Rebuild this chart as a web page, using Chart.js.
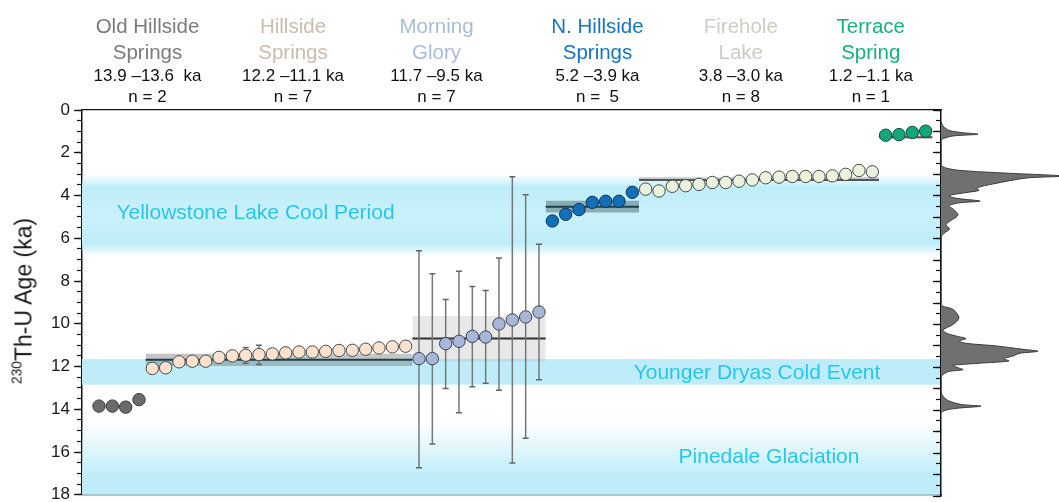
<!DOCTYPE html>
<html>
<head>
<meta charset="utf-8">
<script src="https://cdn.jsdelivr.net/npm/chart.js@4.4.1/dist/chart.umd.min.js"></script>
<style>
  body { margin: 0; background: #fff; overflow: hidden; }
  #wrap { position: relative; width: 1059px; height: 502px; font-family: "Liberation Sans", Arial, Helvetica, sans-serif; }
  canvas { position: absolute; top: 0; }
  #main { left: 0; }
  #dens { left: 900px; }
  .hdr { position: absolute; transform: translateX(-50%); text-align: center; white-space: pre; }
  .name { top: 12.6px; font-size: 20.5px; line-height: 26px; }
  .info { top: 64.5px; font-size: 17px; line-height: 21.3px; color: #111; }
  .bandLabel { position: absolute; transform: translateX(-50%); font-size: 21px; line-height: 21px; color: #27c6ee; white-space: nowrap; }
  #ytitle { position: absolute; left: 24px; top: 301px; transform: translate(-50%, -50%) rotate(-90deg); font-size: 23px; color: #1a1a1a; white-space: nowrap; }
  #ytitle sup { font-size: 60%; vertical-align: 0.75em; line-height: 0; }
</style>
</head>
<body>
<div id="wrap">
  <canvas id="main" width="1059" height="502"></canvas>
  <canvas id="dens" width="159" height="502"></canvas>
  <div id="ytitle"><sup>230</sup>Th-U Age (ka)</div>
</div>
<script>
// spring groups, left to right
const groupNames = ["Old Hillside\nSprings", "Hillside\nSprings", "Morning\nGlory", "N. Hillside\nSprings", "Firehole\nLake", "Terrace\nSpring"];
const groupRanges = ["13.9 \u201313.6  ka", "12.2 \u201311.1 ka", "11.7 \u20139.5 ka", "5.2 \u20133.9 ka", "3.8 \u20133.0 ka", "1.2 \u20131.1 ka"];
const groupCounts = ["n = 2", "n = 7", "n = 7", "n =  5", "n = 8", "n = 1"];

// 230Th-U ages (ka) per sample
const oldHillside = [13.85, 13.85, 13.9, 13.55];
const hillside = [12.09, 12.06, 11.78, 11.75, 11.75, 11.57, 11.5, 11.47, 11.44, 11.41,
                  11.36, 11.32, 11.32, 11.29, 11.25, 11.24, 11.19, 11.13, 11.08, 11.05];
const hillsideLow = [null, null, null, null, null, null, null, 11.11, 11.01, null,
                     null, null, null, null, null, null, null, null, null, null];
const hillsideHigh = [null, null, null, null, null, null, null, 11.85, 11.9, null,
                      null, null, null, null, null, null, null, null, null, null];
const morningGlory = [11.63, 11.63, 10.93, 10.82, 10.59, 10.62, 10.01, 9.82, 9.68, 9.45];
const morningGloryLow = [6.58, 7.66, 8.86, 7.54, 8.26, 8.44, 6.92, 3.12, 3.96, 6.28];
const morningGloryHigh = [16.73, 15.62, 13.03, 14.16, 12.95, 12.78, 13.11, 16.51, 15.36, 12.62];
const nHillside = [5.19, 4.88, 4.66, 4.32, 4.27, 4.27, 3.85];
const firehole = [3.7, 3.79, 3.57, 3.54, 3.48, 3.39, 3.39, 3.33, 3.27, 3.17,
                  3.14, 3.11, 3.11, 3.11, 3.08, 3.01, 2.83, 2.89];
const terrace = [1.18, 1.15, 1.05, 0.99];

const groupValues = [oldHillside, hillside, morningGlory, nHillside, firehole, terrace];
const groupLow = [null, hillsideLow, morningGloryLow, null, null, null];
const groupHigh = [null, hillsideHigh, morningGloryHigh, null, null, null];

// group mean age and its uncertainty band (ka)
const groupMean = [null, 11.68, 10.69, 4.52, 3.27, 1.27];
const groupMeanFrom = [null, 11.4, 9.64, 4.24, 3.15, 1.18];
const groupMeanTo = [null, 11.97, 11.75, 4.79, 3.3, 1.33];

// climate intervals (ka)
const climateNames = ["Yellowstone Lake Cool Period", "Younger Dryas Cold Event", "Pinedale Glaciation"];
const climateFrom = [3.0, 11.65, 14.6];
const climateTo = [6.85, 12.85, 18];

// age probability density (right panel)
const densityAge = [0.55, 0.75, 0.95, 1.05, 1.13, 1.21, 1.32, 1.42,
  2.55, 2.74, 2.84, 2.95, 3.08, 3.16, 3.26, 3.42, 3.57, 3.66, 3.75, 3.85, 4.0, 4.12, 4.25, 4.33, 4.47, 4.65, 4.9, 5.15, 5.35, 5.55, 5.75, 5.95,
  9.05, 9.3, 9.69, 10.0, 10.26, 10.4, 10.54, 10.66, 10.77, 10.88, 11.0, 11.16, 11.25, 11.35, 11.47, 11.6, 11.7, 11.81, 11.91, 12.02, 12.11, 12.19, 12.34, 12.45,
  13.15, 13.4, 13.57, 13.73, 13.81, 13.9, 13.99, 14.1];
const densityValue = [0, 2, 8, 20, 37, 12, 3, 0,
  0, 8, 25, 68, 122, 88, 73, 55, 40, 36, 38, 25, 8, 16, 39, 18, 8, 13, 17, 10, 5, 8.5, 3, 0,
  0, 12, 18, 12, 2, 5, 15, 25, 18, 25, 55, 82, 97, 78, 72, 63, 68, 38, 12, 17, 22, 8, 2, 0,
  0, 3, 8, 20, 40, 18, 5, 0];

// styles / layout
const headerColor = ["#7b7b7b", "#cbbcae", "#a9bcd9", "#1874bf", "#c9cfc3", "#17b07e"];
const headerX = [147.5, 293, 436.5, 597.5, 740.8, 870.8];
const pointFill = ["#6b6b6b", "#fbe2cf", "#a8b7d8", "#1370b8", "#eaf2de", "#15a67a"];
const pointEdge = ["#3a3a3a", "#4a4a4a", "#3d4454", "#0c3557", "#4a4a4a", "#0b4f3a"];
const meanBandFill = [null, "rgba(90,90,90,0.35)", "rgba(150,150,150,0.22)", "rgba(60,90,100,0.45)", "rgba(120,120,120,0.35)", "rgba(120,120,120,0.35)"];
const meanColor = [null, "#1d3f48", "#333333", "#1d3f48", "#555555", "#555555"];
const climateLabelPos = [[255.5, 201.2], [757, 361.2], [769, 444.5]];
const CYAN = "190,237,249";
const climateStops = [
  [[0, `rgba(${CYAN},0)`], [0.16, `rgba(${CYAN},1)`], [0.5, "rgba(202,241,251,1)"], [0.84, `rgba(${CYAN},1)`], [1, `rgba(${CYAN},0)`]],
  [[0, `rgba(${CYAN},1)`], [1, `rgba(${CYAN},1)`]],
  [[0, `rgba(${CYAN},0)`], [0.75, `rgba(${CYAN},1)`], [1, `rgba(${CYAN},1)`]]
];
const FONT = '"Liberation Sans", Arial, Helvetica, sans-serif';

const wrap = document.getElementById("wrap");
groupNames.forEach((name, k) => {
  const a = document.createElement("div");
  a.className = "hdr name";
  a.style.left = headerX[k] + "px";
  a.style.color = headerColor[k];
  a.textContent = name;
  wrap.appendChild(a);
  const b = document.createElement("div");
  b.className = "hdr info";
  b.style.left = headerX[k] + "px";
  b.textContent = groupRanges[k] + "\n" + groupCounts[k];
  wrap.appendChild(b);
});
climateNames.forEach((name, i) => {
  const d = document.createElement("div");
  d.className = "bandLabel";
  d.style.left = climateLabelPos[i][0] + "px";
  d.style.top = climateLabelPos[i][1] + "px";
  d.textContent = name;
  wrap.appendChild(d);
});

// datasets
const datasets = [];
let start = 0;
groupValues.forEach((vals, k) => {
  const first = start, last = start + vals.length - 1;
  datasets.push({
    type: "line", showLine: false, order: 0,
    data: vals.map((v, i) => ({ x: first + i, y: v })),
    pointRadius: 6.2, pointBackgroundColor: pointFill[k], pointBorderColor: pointEdge[k], pointBorderWidth: 1
  });
  if (groupLow[k]) {
    const pts = [];
    vals.forEach((v, i) => {
      if (groupLow[k][i] == null) return;
      pts.push({ x: first + i, y: groupLow[k][i] }, { x: first + i, y: groupHigh[k][i] }, { x: first + i, y: null });
    });
    datasets.push({
      type: "line", order: 1, data: pts, spanGaps: false,
      borderColor: "#777777", borderWidth: 1.5,
      pointStyle: "line", pointRadius: 3, pointBorderColor: "#666666", pointBorderWidth: 1.5
    });
  }
  if (groupMean[k] != null) {
    datasets.push({
      type: "line", order: 2, pointRadius: 0, borderColor: meanColor[k], borderWidth: 2,
      data: [{ x: first - 0.5, y: groupMean[k] }, { x: last + 0.5, y: groupMean[k] }]
    });
    datasets.push({
      type: "line", order: 3, pointRadius: 0, borderWidth: 0,
      backgroundColor: meanBandFill[k], fill: { value: groupMeanFrom[k] },
      data: [{ x: first - 0.5, y: groupMeanTo[k] }, { x: last + 0.5, y: groupMeanTo[k] }]
    });
  }
  start += vals.length;
});

const climateBands = {
  id: "climateBands",
  beforeDatasetsDraw(chart) {
    const { ctx, chartArea: a, scales: { y } } = chart;
    ctx.save();
    climateFrom.forEach((from, i) => {
      const y0 = y.getPixelForValue(from), y1 = y.getPixelForValue(climateTo[i]);
      const g = ctx.createLinearGradient(0, y0, 0, y1);
      climateStops[i].forEach(([p, c]) => g.addColorStop(p, c));
      ctx.fillStyle = g;
      ctx.fillRect(a.left, y0, a.right - a.left, y1 - y0);
    });
    ctx.restore();
  }
};

// fixed axis boxes so both canvases share the same plot height
function fixBox(w, h) {
  return function (s) {
    if (w != null) s.width = w;
    if (h != null) s.height = h;
    s.paddingTop = 0; s.paddingBottom = 0; s.paddingLeft = 0; s.paddingRight = 0;
  };
}

const edge = { color: "#111", width: 1.3 };
const frameX = (pos) => ({
  type: "linear", position: pos, min: -1.275, max: 63.15,
  ticks: { display: false }, grid: { drawOnChartArea: false, drawTicks: false },
  border: edge, afterFit: fixBox(null, 0)
});
const ageAxis = (major, w, labels) => ({
  type: "linear", position: "left", min: 0, max: 18, reverse: true, weight: major ? 1 : 0,
  ticks: labels
    ? { stepSize: 2, autoSkip: false, padding: 4, color: "#1a1a1a", font: { family: FONT, size: 17 } }
    : { display: false, stepSize: major ? 1 : 0.5, autoSkip: false },
  grid: { drawOnChartArea: false, tickLength: major ? 8 : 5, tickColor: "#111", tickWidth: major ? 1.3 : 1.2 },
  border: edge, afterFit: fixBox(w, null)
});

new Chart(document.getElementById("main"), {
  type: "line",
  data: { datasets },
  options: {
    responsive: false, animation: false, devicePixelRatio: 1,
    layout: { padding: { top: 110, bottom: 6, left: 0, right: 118 } },
    plugins: { legend: { display: false }, tooltip: { enabled: false } },
    scales: {
      x: frameX("bottom"),
      xTop: frameX("top"),
      y: ageAxis(true, 82, true),
      yMinor: ageAxis(false, 0, false)
    }
  },
  plugins: [climateBands]
});

new Chart(document.getElementById("dens"), {
  type: "line",
  data: {
    datasets: [{
      data: densityAge.map((a, i) => ({ x: densityValue[i], y: a })),
      fill: "origin", backgroundColor: "#707070", borderColor: "#3c3c3c", borderWidth: 1,
      pointRadius: 0, tension: 0.3
    }]
  },
  options: {
    indexAxis: "y", responsive: false, animation: false, devicePixelRatio: 1,
    layout: { padding: { top: 110, bottom: 6, left: 0, right: 0 } },
    plugins: { legend: { display: false }, tooltip: { enabled: false } },
    scales: {
      x: { type: "linear", min: 0, max: 118, display: false },
      y: ageAxis(true, 41, false),
      yMinor: ageAxis(false, 0, false)
    }
  }
});
</script>
</body>
</html>
